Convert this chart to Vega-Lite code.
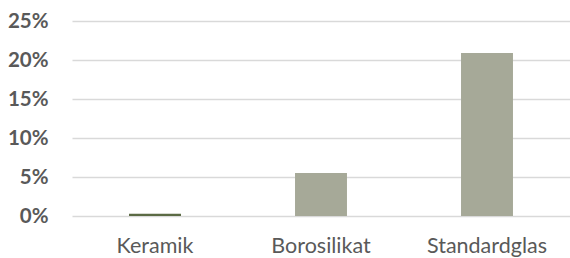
{
  "$schema": "https://vega.github.io/schema/vega-lite/v6.json",
  "autosize": {"type": "none"},
  "width": 498,
  "height": 195,
  "padding": {"left": 72, "top": 21, "right": 0, "bottom": 42},
  "background": "white",
  "data": {"values": [
    {"Material": "Keramik", "Anteil": 0.003},
    {"Material": "Borosilikat", "Anteil": 0.055},
    {"Material": "Standardglas", "Anteil": 0.209}
  ]},
  "mark": {"type": "bar"},
  "encoding": {
    "x": {
      "field": "Material", "type": "nominal", "sort": null,
      "scale": {"paddingInner": 0.687, "paddingOuter": 0.3435},
      "axis": {"title": null, "labelAngle": 0, "ticks": false, "domain": false, "grid": false,
               "labelFont": "Lato", "labelFontSize": 21.5, "labelColor": "#595959", "labelPadding": 19}
    },
    "y": {
      "field": "Anteil", "type": "quantitative",
      "scale": {"domain": [0, 0.25], "nice": false},
      "axis": {"title": null, "format": ".0%", "values": [0, 0.05, 0.1, 0.15, 0.2, 0.25],
               "ticks": false, "domain": false, "gridColor": "#D9D9D9", "gridWidth": 1.3,
               "labelFont": "Lato", "labelFontSize": 20.5, "labelFontWeight": "bold", "labelColor": "#595959", "labelPadding": 24}
    },
    "color": {
      "field": "Material", "type": "nominal", "legend": null,
      "scale": {"domain": ["Keramik", "Borosilikat", "Standardglas"], "range": ["#5B6A44", "#A6A998", "#A6A998"]}
    }
  },
  "config": {"view": {"stroke": null}}
}
